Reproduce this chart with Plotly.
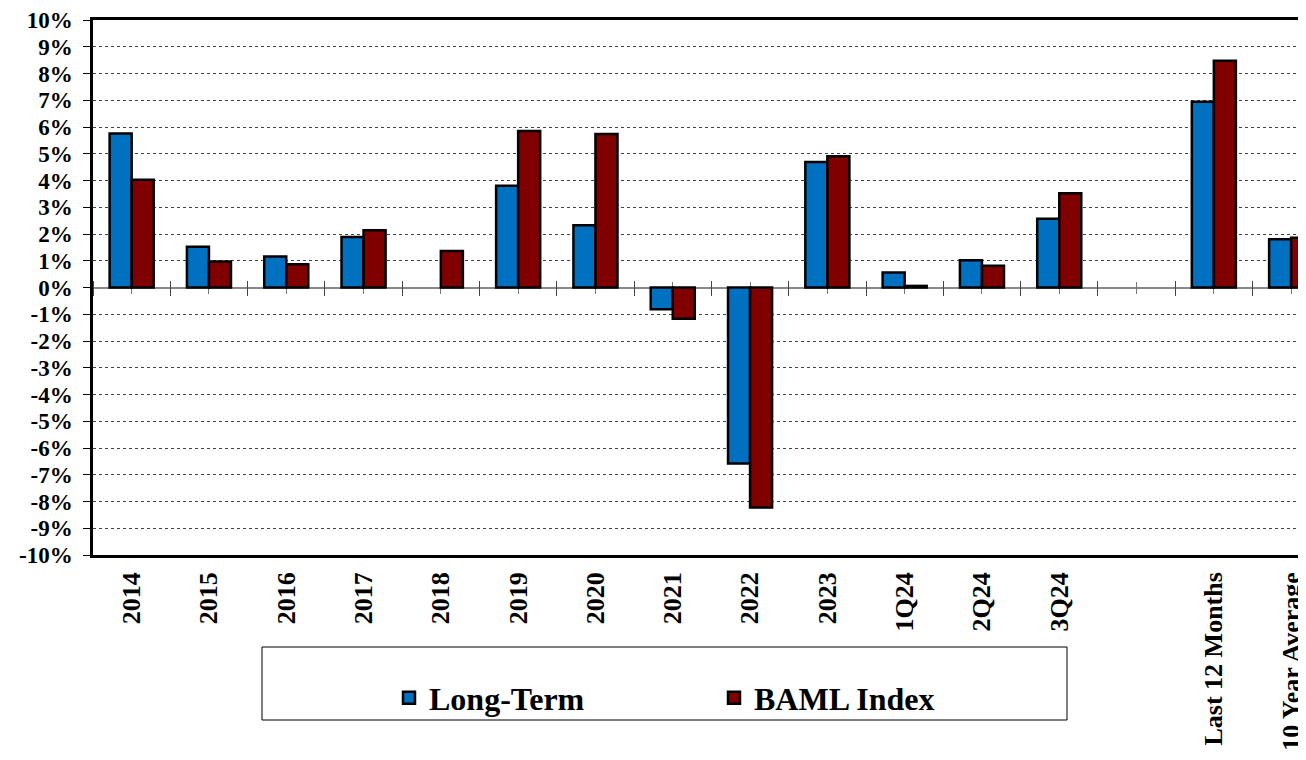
import plotly.graph_objects as go

categories = ["2014", "2015", "2016", "2017", "2018", "2019", "2020", "2021", "2022",
              "2023", "1Q24", "2Q24", "3Q24", " ", "Last 12 Months", "10 Year Average"]
long_term = [5.76, 1.52, 1.16, 1.89, None, 3.80, 2.33, -0.81, -6.58,
             4.69, 0.56, 1.02, 2.57, None, 6.94, 1.80]
baml_index = [4.03, 0.97, 0.87, 2.14, 1.36, 5.85, 5.74, -1.17, -8.22,
              4.91, 0.06, 0.81, 3.52, None, 8.48, 1.86]
y_ticks = list(range(-10, 11))
y_tick_labels = [f"{v}%" for v in y_ticks]

SERIF = "Liberation Serif, Times New Roman, serif"
# page has an 8px body margin; plot area on screen: x 93.., y 20..555
OFF = 8
W, H = 1306, 760
L, T = 93 - OFF, 20 - OFF
PH = 535
B = H - T - PH
R = 0
PW = W - L - R
xr = [-0.5, -0.5 + PW / 77.3]


def px(xs):
    return (xs - 93) / PW


def py(ys):
    return (555 - ys) / PH


fig = go.Figure()
fig.add_trace(go.Bar(name="Long-Term", x=categories, y=[v / 100 if v is not None else None for v in long_term],
                     marker=dict(color="#0070C0", line=dict(color="black", width=2.5))))
fig.add_trace(go.Bar(name="BAML Index", x=categories, y=[v / 100 if v is not None else None for v in baml_index],
                     marker=dict(color="#800000", line=dict(color="black", width=2.5))))

axis_common = dict(overlaying="x", anchor="free", position=0.5, type="linear", range=xr,
                   showgrid=False, zeroline=False, showticklabels=False, layer="below traces",
                   tickmode="linear", tick0=-0.5, dtick=1, ticks="outside", tickwidth=1.2,
                   tickcolor="#444", automargin=False)

fig.update_layout(
    width=W, height=H,
    margin=dict(l=L, r=R, t=T, b=B, pad=0, autoexpand=False),
    paper_bgcolor="white", plot_bgcolor="white",
    barmode="group", bargap=0.43, bargroupgap=0,
    showlegend=True,
    legend=dict(orientation="h", x=px(389), xanchor="left",
                y=py(698), yanchor="middle",
                font=dict(family=SERIF, size=32, color="black", weight="bold"),
                entrywidth=280, entrywidthmode="pixels", bgcolor="rgba(0,0,0,0)",
                itemclick=False),
    xaxis=dict(type="category", range=xr, showline=True, linecolor="black", linewidth=2.5,
               mirror=True, ticks="", showgrid=False, tickangle=-90, automargin=False,
               tickfont=dict(family=SERIF, size=26, color="black", weight="bold"),
               ticklabelstandoff=4),
    xaxis2=dict(**axis_common, side="bottom", ticklen=8, showline=True, linecolor="#888", linewidth=1.5,
                minor=dict(ticks="outside", tick0=0, dtick=1, ticklen=6, tickcolor="#777", tickwidth=1.2)),
    xaxis3=dict(**axis_common, side="top", ticklen=7, showline=False,
                minor=dict(ticks="outside", tick0=0, dtick=1, ticklen=6, tickcolor="#777", tickwidth=1.2)),
    yaxis=dict(range=[-0.10, 0.10], tickmode="array", tickvals=[v / 100 for v in y_ticks],
               ticktext=y_tick_labels, showline=True, linecolor="black", linewidth=2.5,
               ticks="outside", ticklen=7, tickcolor="black", tickwidth=1, automargin=False,
               showgrid=True, gridcolor="#444", griddash="dot", gridwidth=1,
               zeroline=False,
               tickfont=dict(family=SERIF, size=23, color="black", weight="bold"),
               ticklabelstandoff=6),
)

# invisible helpers so the overlay tick axes are drawn
fig.add_trace(go.Scatter(x=[0], y=[0], xaxis="x2", mode="markers", marker=dict(opacity=0),
                         showlegend=False, hoverinfo="skip"))
fig.add_trace(go.Scatter(x=[0], y=[0], xaxis="x3", mode="markers", marker=dict(opacity=0),
                         showlegend=False, hoverinfo="skip"))

# legend frame
fig.add_shape(type="rect", xref="paper", yref="paper",
              x0=px(262), x1=px(1067), y0=py(720), y1=py(647),
              line=dict(color="black", width=1), fillcolor="rgba(0,0,0,0)")

fig.write_html("out.html")
